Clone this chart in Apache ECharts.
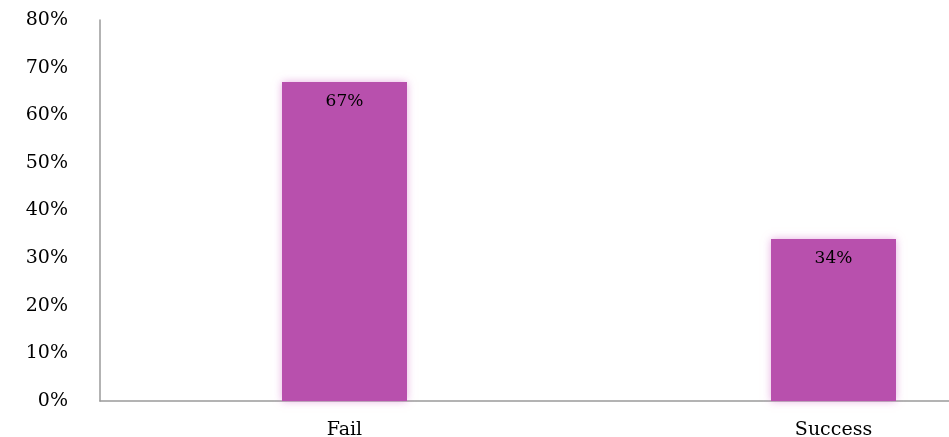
<!DOCTYPE html>
<html><head><meta charset="utf-8">
<script src="https://cdn.jsdelivr.net/npm/echarts@6/dist/echarts.min.js"></script>
<style>html,body{margin:0;padding:0;background:#fff;overflow:hidden;width:949px;height:437px}#c{width:1078px;height:437px}</style>
</head><body><div id="c"></div>
<script>
const categories = ['Fail', 'Success'];
const values = [67, 34];
const yTicks = [0, 10, 20, 30, 40, 50, 60, 70, 80];

const chart = echarts.init(document.getElementById('c'));
chart.setOption({
  animation: false,
  grid: { left: 100, right: 0, top: 20, bottom: 36, outerBoundsMode: 'none', containLabel: false },
  xAxis: {
    type: 'category', data: categories,
    axisLine: { lineStyle: { color: '#9a9a9a', width: 1.5 } },
    axisTick: { show: false },
    axisLabel: { color: '#000', fontFamily: 'DejaVu Serif', fontSize: 19, margin: 20 }
  },
  yAxis: {
    type: 'value', min: yTicks[0], max: yTicks[yTicks.length - 1], interval: 10,
    axisLine: { show: true, lineStyle: { color: '#9a9a9a', width: 1.5 } },
    axisTick: { show: false },
    splitLine: { show: false },
    axisLabel: { color: '#000', fontFamily: 'DejaVu Serif', fontSize: 19, margin: 32, formatter: v => v + '%' }
  },
  series: [{
    type: 'bar', data: values, barWidth: 125,
    itemStyle: { color: '#B850AD', shadowBlur: 8, shadowColor: 'rgba(214,120,205,0.6)' },
    label: { show: true, position: 'insideTop', distance: 11, color: '#000', fontFamily: 'DejaVu Serif', fontSize: 17, formatter: p => p.value + '%' }
  }]
});
</script></body></html>
